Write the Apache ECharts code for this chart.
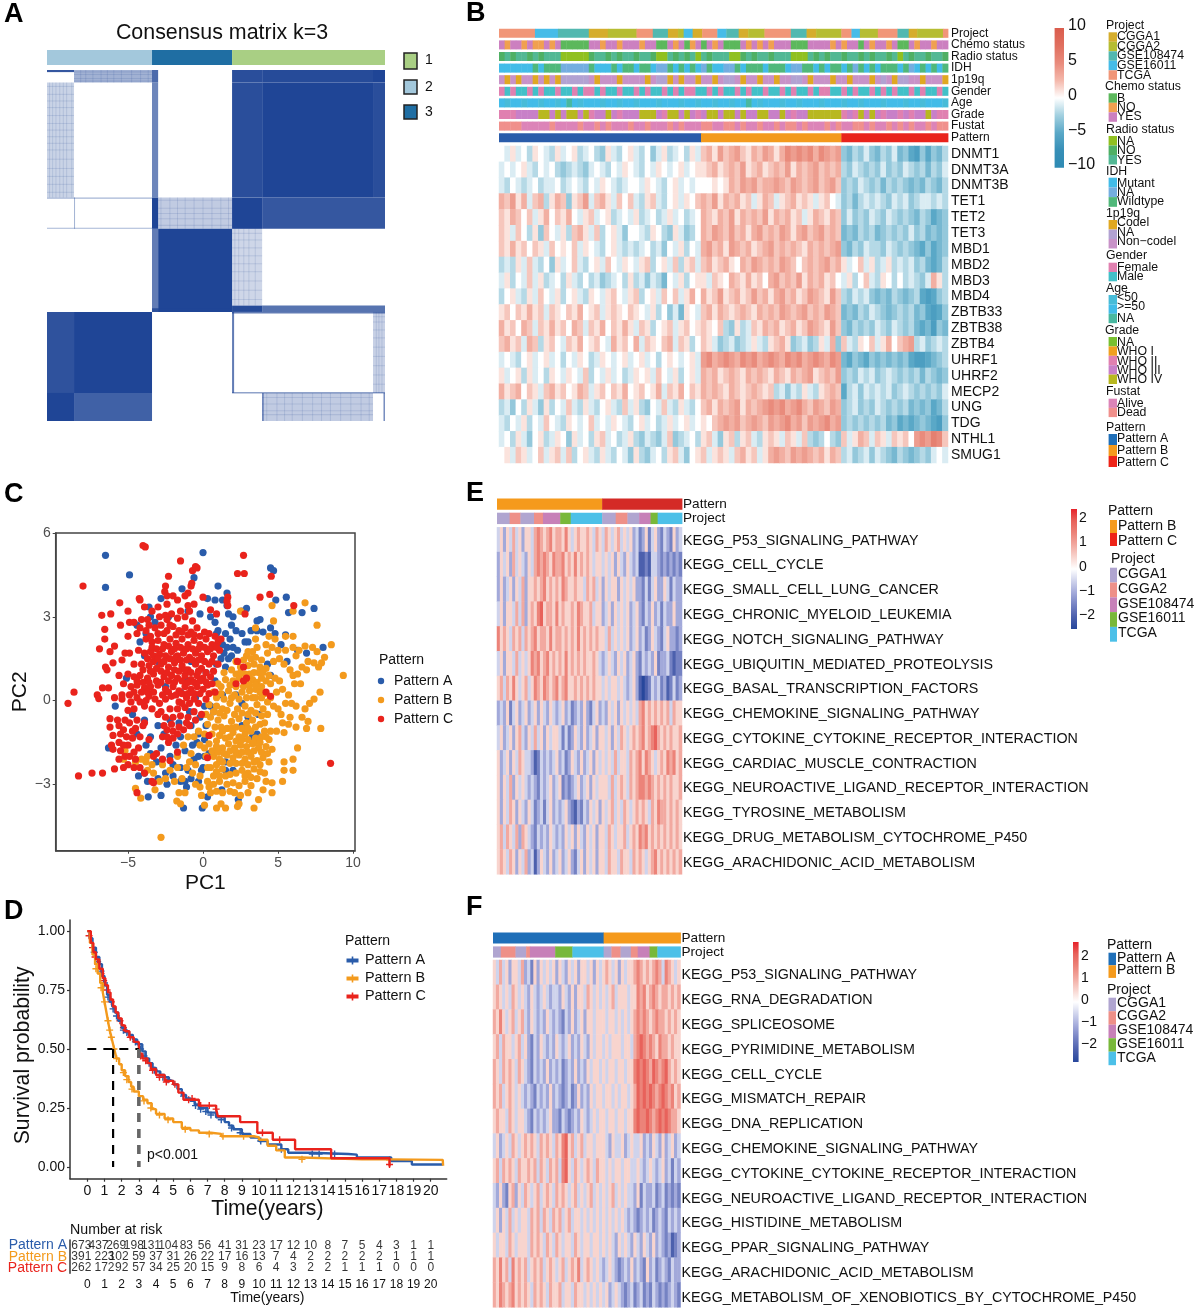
<!DOCTYPE html>
<html>
<head>
<meta charset="utf-8">
<style>html,body{margin:0;padding:0;background:#fff}#chart{width:1200px;height:1312px}</style>
<script src="https://cdn.jsdelivr.net/npm/echarts@6/dist/echarts.min.js"></script>
</head>
<body>
<div id="chart"></div>
<script>
// ---- A: consensus matrix, in sample units [x0,x1,y0,y1,consensus]
var consensusSamples = 1326;
var clusterRuns = [[0,412,1],[412,726,2],[726,1326,0]];
var clusterColors = ['#a9cf84','#a3c8dc','#1f6ea3'];
var consensusBlocks = [
  [0,106,0,8,.9],[106,412,0,47,.42],[412,436,0,47,.8],[726,844,0,47,.95],[844,1279,0,47,.97],[1279,1326,0,47,1],
  [0,106,47,482,.24],[412,436,47,482,.65],[726,844,47,482,.95],[844,1279,47,482,1],[1279,1326,47,482,.95],
  [412,436,482,600,1],[436,726,482,600,.28],[726,844,482,600,1],[844,1326,482,600,.9],
  [0,412,482,486,.4],[0,412,596,600,.4],[106,110,482,600,.4],
  [412,436,600,914,.7],[436,726,600,914,1],[726,844,600,890,.22],[412,726,900,914,.8],[726,844,890,914,.97],[844,1326,890,914,.75],
  [0,106,914,1220,.93],[106,412,914,1220,1],[726,734,914,1220,.7],[726,1326,914,920,.7],[1279,1326,914,1220,.25],
  [0,106,1220,1326,1],[106,412,1220,1326,.85],[844,1279,1220,1326,.28],[726,1326,1216,1222,.5],[1320,1326,1220,1326,.6],[844,850,1220,1326,.6]
];
var partialBlocks = [[0,106,47,482],[106,412,0,47],[436,726,482,600],[726,844,600,890],[1279,1326,914,1220],[844,1279,1220,1326]];
var streakCols = [8,20,33,48,62,75,95,130,150,178,210,235,260,290,330,365,395,445,480,510,540,575,610,645,680,710,735,750,770,790,815,860,900,930,960,1000,1040,1075,1110,1150,1190,1230,1262,1290,1300,1312];
var streakRows = [5,15,30,40,60,90,115,140,170,200,225,250,275,300,335,370,400,430,460,490,520,540,560,585,615,640,670,700,730,760,795,830,865,930,950,980,1010,1045,1080,1115,1150,1185,1235,1260,1285,1300];

// ---- B: annotations and expression
var geneNames = ['DNMT1','DNMT3A','DNMT3B','TET1','TET2','TET3','MBD1','MBD2','MBD3','MBD4','ZBTB33','ZBTB38','ZBTB4','UHRF1','UHRF2','MECP2','UNG','TDG','NTHL1','SMUG1'];
var annotNames = ['Project','Chemo status','Radio status','IDH','1p19q','Gender','Age','Grade','Fustat','Pattern'];
var projectEdges = [0,6.4,10.5,16,19.4,24.5,27.4,30.1,31.9,32.9,34.5,36.2,38.9,40.5,42.7,44.4,47.3,52,54.8,56.5,61,62.8,64.3,67.5,71,73,74.5,79.1,80];
var projectCodes = [4,3,2,0,1,4,2,0,1,3,0,4,3,2,0,1,4,2,0,1,4,3,1,4,2,0,1,4];
var patternEdges = [0,36,61,80];
var chemoCodes = [2,1,2,2,1,2,1,1,2,1, 2,0,0,0,0,0,2,2,1,2, 2,1,2,2,2,1,2,2,0,0, 2,1,2,0,1,2,0,2,1,2, 0,0,0,2,1,2,1,2,1,2, 2,2,0,0,0,2,2,2,2,1, 2,1,2,2,0,2,1,2,2,1, 2,0,0,2,1,2,2,1,2,2];
var radioCodes = [1,2,1,2,2,1,2,1,2,2, 2,0,0,0,0,0,1,2,2,1, 2,1,2,2,1,2,2,1,0,0, 2,1,2,1,2,0,2,1,2,2, 2,0,0,1,2,1,2,2,1,2, 2,2,0,0,0,2,1,2,1,2, 2,1,2,2,1,2,1,2,2,1, 2,0,2,1,2,2,1,2,2,1];
var idhCodes = [0,0,0,0,0,0,2,0,2,2, 2,1,1,1,1,1,2,0,0,0, 2,0,2,2,0,2,2,0,1,1, 2,0,2,0,2,0,1,2,0,0, 1,1,2,0,2,2,2,0,2,2, 2,0,1,1,2,2,0,2,0,2, 2,0,2,1,2,0,2,0,2,2, 2,0,2,1,0,2,0,2,0,2];
var codelCodes = [2,0,2,0,2,2,0,2,0,2, 0,1,1,1,1,1,2,0,2,2, 2,0,2,2,2,2,0,2,1,1, 0,2,0,2,2,0,2,2,0,2, 1,1,2,0,2,2,0,2,2,0, 2,2,1,1,2,0,2,2,2,0, 2,2,0,2,2,2,0,2,1,2, 0,1,1,2,2,0,2,2,2,0];
var genderCodes = [0,1,0,1,1,0,1,0,1,1, 0,1,1,0,1,0,0,1,0,1, 1,0,1,1,0,1,0,1,1,0, 1,0,1,0,0,1,1,0,1,0, 1,1,0,1,0,1,1,0,1,1, 0,1,0,1,1,0,1,0,0,1, 1,0,1,0,1,1,0,1,0,1, 0,1,1,0,1,0,1,1,0,1];
var ageCodes = [1,0,1,1,0,1,1,0,1,1, 0,1,2,1,0,1,1,1,0,1, 1,0,1,1,0,1,1,1,0,1, 1,1,0,1,1,0,1,1,0,1, 1,0,1,1,2,1,0,1,1,1, 0,1,1,0,1,1,1,0,1,1, 1,0,1,1,0,1,1,1,0,1, 1,1,0,1,1,0,1,1,1,0];
var gradeCodes = [2,2,2,3,3,3,3,4,4,3, 4,3,4,4,3,4,2,3,3,4, 3,2,3,3,3,4,4,4,3,2, 4,4,3,4,3,2,3,4,4,3, 4,4,3,4,3,3,4,4,3,3, 4,3,2,3,3,4,4,4,4,4, 4,2,3,2,4,3,4,3,2,3, 3,2,3,2,3,3,4,3,2,2];
var fustatCodes = [1,1,1,1,0,0,0,0,0,1, 0,0,0,0,1,0,0,1,0,1, 0,0,0,1,0,0,1,0,0,0, 1,0,1,0,0,0,1,1,0,0, 1,1,0,1,0,0,1,0,0,1, 0,1,1,0,1,0,0,0,1,0, 1,0,0,1,1,0,1,0,0,1, 0,1,0,1,0,0,1,0,1,1];

var projectColors = ['#d5ad2c','#b6bd32','#52b8b0','#46bce8','#f19678'];
var chemoColors = ['#5cb85c','#f0a050','#cc80c0'];
var radioColors = ['#90c020','#4fb064','#52b894'];
var idhColors = ['#42bce8','#74aee0','#50b87a'];
var codelColors = ['#e0a822','#b2a2d2','#c892c8'];
var genderColors = ['#e080b0','#42c0c8'];
var ageColors = ['#48bcd8','#42bce8','#48b8a0'];
var gradeColors = ['#78c030','#f0a020','#e080b0','#c880c8','#b8b820'];
var fustatColors = ['#dc84b8','#f0908c'];
var patternColors = ['#2a5caa','#f39a1d','#e9231c'];

var exprDNMT1 = [0,-1,1,-1,0,-2,1,0,-1,-2,1,-1, 0,1,-2,-1,0,-2,-3,1,-1,-2,0,1, -1,-2,0,-3,-1,1,-2,-1,0,-2,1,-1, 2,3,1,4,2,3,4,2,1,3,2,4, 3,1,3,5,4,5,4,5,3,5,4,3,4, -3,-4,-2,-3,-1,-3,-4,-2,-3,-1, -4,-3,-5,-6,-3,-5,-3,-4,-2];
var exprDNMT3A = [-1,0,-1,0,1,-1,-2,0,-1,0,-2,-3, -2,-1,-2,-3,-1,0,-1,-2,0,-1,1,0, -1,-2,0,-1,1,0,-1,0,1,-1,0,1, 1,2,3,1,2,3,2,4,1,2,3,1, 2,3,2,4,1,3,2,3,4,2,3,2,3, -2,-3,-1,-2,-3,-2,-3,-1,-3,-2, -3,-1,-2,-3,-2,-4,-2,-3,-1];
var exprDNMT3B = [-1,-2,0,-1,-2,-1,0,-2,-1,-1,0,-2, -1,0,-1,-2,0,-1,1,0,-1,-2,-1,0, 0,-1,1,0,-1,-2,0,1,-1,0,-1,0, 0,0,1,0,1,3,2,4,3,4,2,3, 3,4,3,2,4,3,2,3,4,2,3,4,2, -3,-2,-3,-1,-2,-3,-2,-4,-2,-3, -2,-3,-4,-3,-4,-2,-3,-4,-2];
var exprTET1 = [3,2,4,1,3,-1,2,3,-2,1,3,2, -3,1,2,4,-1,2,3,1,-1,2,0,2, -1,-2,1,2,-1,-2,0,1,-1,1,0,2, 3,2,4,1,3,2,3,1,2,-1,1,3, 2,-1,1,2,3,1,2,1,-1,1,2,0,-1, -3,-2,-4,-2,-1,-2,-1,-2,-3,-1, -2,-1,-3,-2,-1,-1,-2,-1,-2];
var exprTET2 = [2,1,3,2,0,2,-1,1,3,0,2,1, 3,0,-1,1,2,-1,0,1,-2,-1,0,-1, 1,-2,-1,0,-2,-1,1,-1,0,-2,-1,0, 3,2,1,3,2,4,1,3,2,3,2,4, 1,3,2,3,1,2,-1,1,3,2,1,3,2, -3,-1,-3,-2,-3,-1,-2,-3,-1,-2, -3,-2,-3,-4,-2,-3,-5,-4,-3];
var exprTET3 = [2,1,-1,2,0,-2,1,-3,2,0,-1,1, -2,2,3,1,-1,2,-2,0,1,-1,-3,0, 0,-1,-2,1,0,-2,-3,1,-1,-3,-2,0, 3,2,4,3,2,4,2,3,1,3,4,2, 3,2,4,3,1,3,4,2,3,4,2,3,2, -4,-3,-4,-2,-3,-2,-4,-3,-2,-3, -2,-3,-1,-3,-2,-4,-3,-4,-3];
var exprMBD1 = [2,1,3,1,2,0,2,1,-1,2,0,1, 0,2,-1,1,0,-1,-2,0,1,-1,-2,-1, -2,-1,0,-2,-1,-3,0,-1,1,-2,0,-1, 3,4,2,3,1,4,3,2,3,1,2,3, 4,2,3,2,3,2,1,3,2,3,2,3,4, -3,-4,-2,-3,-1,-2,-2,-3,-1,-2, -3,-2,-3,-4,-5,-3,-5,-4,-3];
var exprMBD2 = [-2,-1,-2,1,-1,2,-1,-2,0,-3,1,-1, 0,2,-1,-2,0,1,-1,2,0,-1,1,0, -1,1,2,-2,0,1,-1,2,-2,1,2,-1, 2,3,1,2,3,1,0,3,2,4,3,2, 3,2,4,3,2,0,2,3,2,3,4,2,3, 1,-1,0,2,-1,1,-2,-1,1,-2, -1,-2,-1,-3,-2,-4,-5,-4,-2];
var exprMBD3 = [-1,1,-2,0,-1,2,-1,1,-2,-1,0,-2, 1,-1,-2,0,-2,-1,-3,-2,-1,0,-2,1, -2,-1,-3,-1,-2,-4,0,-1,1,-2,0,1, 1,-1,2,1,0,3,2,1,3,1,2,0, 3,4,2,3,2,4,1,3,2,3,1,2,0, -1,1,-2,0,2,-1,-2,1,0,-2, 0,-2,-1,-2,-3,-1,3,1,-2];
var exprMBD4 = [-2,0,1,-1,-2,1,-1,2,0,-1,1,-2, 0,1,-1,-2,1,0,-1,1,2,0,-1,1, 2,-2,0,1,-1,2,0,2,-1,1,3,0, 3,1,2,4,1,2,3,1,2,4,2,3, 1,3,4,2,3,1,2,4,3,2,1,4,2, -2,-3,-1,-2,-1,-3,-4,-3,-4,-2, -3,-4,-3,-2,-5,-6,-5,-3,-2];
var exprZBTB33 = [1,2,0,2,1,3,1,2,-1,2,1,0, 2,1,3,0,1,2,-1,1,2,1,0,2, 1,0,-1,1,-2,0,-3,-1,-4,1,0,-1, 2,3,1,3,2,1,2,3,2,1,3,2, 3,2,4,3,2,3,4,2,3,2,4,3,2, -4,-3,-4,-2,-3,-1,-2,-3,-4,-3, -2,-3,-2,-4,-3,-5,-6,-5,-3];
var exprZBTB38 = [3,1,2,0,3,2,-1,2,1,3,1,2, 0,3,2,-1,2,1,3,0,2,1,3,1, -1,2,1,-2,0,1,2,-1,1,2,0,1, 2,1,0,2,-2,-3,1,-2,-1,2,1,3, 2,3,1,2,3,1,2,4,3,2,1,4,2, -3,-4,-2,-3,-2,-3,-1,-2,-3,-1, -2,-3,-2,-4,-5,-4,-6,-3,-4];
var exprZBTB4 = [2,3,1,2,-1,3,2,-2,1,2,0,-1, 2,1,3,0,1,2,0,-1,3,1,2,0, 3,-1,2,1,0,2,3,-1,2,1,-2,0, 2,1,-1,-3,-2,-1,-3,-2,-1,1,-1,-2, 1,2,3,1,-3,-2,-1,-3,-2,1,-1,3,-3, 2,-1,-2,1,0,2,-1,1,3,0, 2,3,4,-2,-1,-3,-2,-1,-2];
var exprUHRF1 = [-1,0,-1,-2,0,1,-1,0,1,-1,0,-2, 0,-1,1,0,-2,-1,1,0,-1,0,1,-1, 0,1,-1,0,-2,0,1,0,-1,0,1,-1, 4,5,3,4,5,4,3,5,4,5,3,4, 5,4,3,5,4,5,3,4,5,4,3,5,4, -4,-5,-3,-4,-5,-3,-4,-3,-4,-3, -4,-3,-5,-6,-6,-5,-4,-3,-2];
var exprUHRF2 = [1,-1,0,1,-2,1,-1,0,-2,1,0,-1, 1,0,-1,2,-2,0,-1,1,-1,0,-2,-1, 1,0,1,-1,2,0,-1,1,-2,0,1,-1, 3,2,3,1,2,3,2,1,3,2,3,2, 1,3,2,1,3,2,3,4,1,2,3,2,4, -3,-2,-3,-1,-2,-1,-3,-2,-1,-2, -3,-2,-3,-2,-4,-2,-3,-4,-3];
var exprMECP2 = [3,1,2,3,0,2,1,-1,2,3,1,2, 0,1,3,2,-1,1,2,0,2,1,3,0, 1,2,0,1,3,-1,2,1,3,0,2,1, 3,2,3,2,1,3,2,1,2,3,2,1, 2,-2,-1,-3,-1,-2,1,-1,-2,1,2,3,2, -5,-2,-1,-3,-1,-2,-1,-2,-1,-3, -2,-1,-2,-3,-2,-3,-2,-3,-1];
var exprUNG = [-2,-1,-3,0,-2,1,-1,-3,1,-2,0,-1, 2,-1,-2,1,-1,-2,0,1,-1,-2,2,-1, 1,-2,-3,0,-1,2,-1,-2,1,-1,-2,0, 2,3,1,3,2,3,4,1,3,2,3,4, 5,4,5,3,4,5,3,2,4,3,2,4,3, -3,-2,-1,-3,-2,-3,-1,-2,-3,-2, -3,-2,-4,-3,-4,-3,-5,-4,-2];
var exprTDG = [-1,-2,0,-1,1,-2,0,-1,2,0,-1,-2, 1,0,-1,0,2,-1,0,-1,1,0,-1,-2, 0,1,-1,0,-2,-1,1,-1,0,1,-1,0, 1,0,2,3,4,3,4,2,3,4,3,2, 4,3,4,5,3,4,2,4,3,4,5,3,4, -3,-2,-3,-2,-3,-2,-3,-2,-4,-3, -5,-4,-5,-4,-3,-4,-5,-6,-3];
var exprNTHL1 = [-1,0,-2,1,-1,-3,0,1,-2,-1,1,0, -3,1,-1,0,-2,1,2,-1,0,-2,-1,1, -2,-3,-1,-2,-3,-1,2,-3,-2,-1,0,-2, 1,2,-1,-3,1,2,-2,1,2,-1,-2,1, 2,1,-1,2,1,-1,2,-2,-3,-2,0,-2,-3, 2,-1,1,3,2,-1,2,1,-1,2, 1,2,0,4,5,4,6,5,2];
var exprSMUG1 = [0,1,-1,2,1,-1,0,2,-1,1,2,-1, 2,-2,0,1,-1,-2,1,-1,-2,0,-1,-3, 1,-2,-3,-1,0,-2,1,2,-1,-3,0,1, 2,-1,1,2,1,-1,2,3,1,2,-1,1, 3,4,3,2,4,3,4,3,2,3,1,3,2, -2,-1,-3,-2,-1,-3,-1,-2,-3,-4, -2,-3,-4,-3,-2,-3,-1,0,-1];
var exprRows = [exprDNMT1,exprDNMT3A,exprDNMT3B,exprTET1,exprTET2,exprTET3,exprMBD1,exprMBD2,exprMBD3,exprMBD4,exprZBTB33,exprZBTB38,exprZBTB4,exprUHRF1,exprUHRF2,exprMECP2,exprUNG,exprTDG,exprNTHL1,exprSMUG1];
var exprColors = ['#2e8ab3','#378fb7','#5aa8c7','#a2d0e0','#ffffff','#f4b8ab','#e98b7c','#e06f5f','#da5c4d'];

// ---- C: PCA
var pcaA = [[-6.5,5.2],[0,5.3],[-4.9,4.5],[-6.5,4.05],[4.5,4.75],[4.7,4.65],[-.6,4.4],[-1.4,4],[1,4.1],[1.6,3.85],[5.55,3.7],[4.85,3.6],[5.7,3.15],[6.6,3.15],[7.4,3.3],[8,1.9],[-5.1,.8],[-5.85,-.2],[-4.7,-.5],[-6.3,-1.7],[-3.65,-3.45],[-2.8,-3.4],[-1.3,-3.85],[-.05,-3.85],[2.35,-3.55],[1.25,-3.2],
  [-2.8,3.65],[-3.6,3.35],[-.2,3.1],[.3,3.65],[.8,3.6],[1.3,3.6],[1.6,3.4],[1.7,3.1],[2,3],[2.6,3.2],[2.9,3.3],[3.6,2.85],[3.8,2.9],[3.2,2.5],[3.6,2.5],[4,2.45],[4.5,2.6],[4.8,2.4],[5.5,2.35],[5.2,2],[1.5,2.4],[1.8,2.2],[2,1.9],[1.4,1.7],[1.7,1.5],[2.3,1.8],[2.8,2.1],[3,2.1],[2.6,2.4],[1.5,1.2],[1.9,1.6],[5.6,1.4],[6.3,1.8],[6.9,1.7],
  [-3.5,3],[-3.2,2.8],[-2.3,3],[-1,3.2],[.5,3],[.8,2.8],[-4.2,2.1],[-3.9,1.6],[-3,1.4],[-2.5,.5],[-1.5,.3],[-.8,1.4],[.2,1],[.8,.7],[1.3,.2],[2.2,.2],[2.6,-.1],[-.2,-.6],[.2,-.9],[-.3,-1.2],[-.8,-.9],[-1.6,-.8],[-2.2,-.7],[-3,-.9],[-3.5,-1.3],[-3.8,-1.6],[-3.5,-1.9],[-2.8,-1.7],[-2.2,-2],[-1.8,-1.6],[-1.2,-1.8],[-.7,-1.6],[-.3,-2],[0,-2.4],[.4,-1.9],[-2.5,-2.6],[-2,-2.7],[-1.5,-2.4],[-1,-2.5],[-.8,-2.8],[-1.2,-2.9],[-3,-2.8],[-3.7,-2.9],[-4.3,-2.7],[-2.4,-3],[-1.1,-3.1],[-.3,-2.9],[.3,-3.45],[1.5,-2.2],[1.5,-2.5],[2,-2.5],[3.3,-1.3],[3.6,-1.2],[3,-.6],[2.6,-.9],[3.7,-.5],[4.5,.9],[4.3,1.3],[-4.4,-1.2],[-3.9,-.7],[-1,.7],[.5,-.2],
  [1,2.5],[1.3,2],[.9,1.3],[1.2,1.5],[1.6,1.9],[.9,2.4],[-.5,.1],[.1,-.2],[-.9,-.4],[-.4,-1.5],[.1,-1.4],[-1.5,-1.3],[-2.6,-1.2],[-.6,-2.1],[-1.5,-2.9],[-2,-2.3],[-3.1,-2.2],[-3.9,-2.6],[.1,-2],[-.1,-2.5],[.7,-.4],[-4.4,2.7],[-3.8,2.4],[1.9,2.7],[2.2,2.5]];
var pcaB = [[9.35,.9],[8.55,2],[7.6,2.7],[6.8,3.5],[4.6,3.4],[6,3.2],[2.5,3.2],[3.5,2.6],[4.7,2.85],[5.5,2.3],[6,2.3],[4.8,2.2],[4.6,1.9],[5,1.8],[5.5,1.8],[6,1.9],[6.4,1.8],[6.8,1.95],[7.3,1.9],[7.6,1.75],[6.2,1.6],[7,1.4],[7.4,1.35],[7.9,1.35],[8.1,1.55],[7.7,1.2],[4.7,1.4],[5.1,1.5],[5.4,1.3],[5.8,1.1],[6.6,1.2],[6.9,1.1],[6,.9],[6.3,.95],[6.1,.6],[6.5,.6],[7.8,.3],[7.4,.05],[7.1,-.1],[6.8,-.3],[6.2,-.2],[5.9,-.1],[5.5,-.1],[5.7,.2],[5.3,.4],[5.1,.7],[4.8,.8],[4.5,.6],[4.9,.3],[4.5,.1],[4.7,-.2],[5,-.3],[5.2,-.5],[5.8,-.6],[6.6,-.6],[7,-.75],[6.9,-1],[6.2,-.95],[5.7,-.85],[5.3,-.8],[4.9,-1.1],[5.4,-1.15],[4.5,-1.1],[4.1,-1.1],[7.85,-1],[6.3,-1.7],[6,-2.1],[6,-2.5],[5.4,-2.5],[5.4,-2.2],[5.3,-2.9],[4.6,-2.95],[4.6,-3.3],[4,-3.2],[4.2,-2.9],[3.4,-3.85],[3.7,-3.55],[2.5,-3.4],[2.4,-3.7],[.9,-3.85],[1.2,-3.7],[1.5,-3.85],[.1,-3.75],[2.3,-3.8],[-.1,-3.4],[.4,-3.1],
  [-2.8,-4.9],[-1.75,-3.6],[-4.15,-3.5],[-4.5,-3.15],[-1.5,-3.7],[-1.6,-3.3],[-1.2,-3.3],[-3.2,-3.2],[-5.2,-1.8],[-5.3,-2.1],[-4.1,-2.1],[-3.7,-2],[-3.4,-2.3],[-3.3,-2.6],[-3.8,-2.2],[-2.7,-2.3],[-2.2,-2.5],[-1.7,-2.4],[-1.7,-2],[-1.3,-1.6],[-1,-1.3],[-.8,-1.9],[-.6,-1.3],[-.5,-2.3],[-.9,-2.2],[-.2,-1.6],[.1,-1.7],[-.2,-2.7],[.3,-2.4],[.2,-2],
  [3.3,1.75],[3.6,1.9],[2.9,1.6],[3.2,1.5],[1.9,1.1],[2.5,1.2],[3,1.25],[3.4,1.3],[3.8,1.2],[4.2,1.15],[1.4,1],[2.8,.95],[1,.6],[1.5,.75],[2,.7],[2.4,.8],[2.9,.6],[3.3,.75],[3.6,.65],[3.9,.8],[4.2,.7],[3.1,.95],[3.7,1],[.7,.3],[1.2,.25],[1.7,.35],[2.1,.2],[2.6,.3],[3.1,.35],[3.5,.4],[3.8,.3],[4.1,.25],[3.3,.1],
  [.4,-.15],[.9,-.2],[1.3,-.3],[1.8,-.1],[2.3,-.3],[2.8,-.2],[3.2,-.35],[3.6,-.15],[4,-.3],[.5,-.6],[1,-.7],[1.4,-.55],[1.9,-.75],[2.4,-.65],[2.9,-.8],[3.3,-.7],[3.8,-.85],[.8,-.95],[1.6,-1],[.6,-1.2],[1.1,-1.25],[1.5,-1.35],[2,-1.15],[2.4,-1.3],[2.8,-1.2],[3.2,-1.1],[3.5,-1.35],[3.9,-1.3],[4.4,-1.4],
  [.4,-1.55],[.9,-1.65],[1.3,-1.7],[1.7,-1.55],[2.1,-1.7],[2.5,-1.6],[2.9,-1.65],[3.3,-1.55],[3.7,-1.7],[4.2,-1.65],[4.6,-1.75],[.7,-2],[1.1,-2.1],[1.6,-1.95],[2,-2.05],[2.4,-1.95],[2.8,-2.1],[3.2,-2],[3.6,-2.15],[4,-2.05],[4.4,-2.2],[.5,-2.4],[.9,-2.55],[1.3,-2.45],[1.8,-2.65],[2.6,-2.5],[3,-2.6],[3.4,-2.45],[3.8,-2.55],[4.1,-2.6],[.3,-2.9],[.7,-3],[1.1,-2.9],[1.6,-3],[2,-2.95],[2.4,-3.05],[2.8,-2.9],[3.2,-3.05],
  [2.2,1.4],[2.7,1.45],[3.5,1.55],[3.9,1.45],[2.2,.95],[2.5,1],[3.4,1],[4,1],[4.4,.9],[1.2,.5],[1.8,.55],[2.2,.5],[2.7,.5],[3.1,.55],[3.5,.55],[3.9,.5],[.9,.1],[1.4,.05],[1.9,.1],[2.4,.05],[2.9,.1],[3.5,.1],[3.9,.1],[4.3,-.05],[.7,-.4],[1.1,-.45],[1.6,-.35],[2.1,-.5],[2.6,-.45],[3,-.5],[3.5,-.45],[3.9,-.55],[4.3,-.5],[.3,-.85],[1.2,-.95],[1.9,-1],[2.2,-.95],[2.6,-1],[3,-1],[3.5,-.95],[4.1,-.8],[.9,-1.45],[1.3,-1.1],[1.8,-1.3],[2.2,-1.45],[2.6,-1.4],[3,-1.4],[3.4,-1.5],[3.8,-1.5],[4.2,-1.3],[.6,-1.8],[1,-1.85],[1.4,-1.9],[1.8,-1.8],[2.2,-1.85],[2.6,-1.85],[3,-1.85],[3.4,-1.8],[3.9,-1.85],[4.3,-1.9],[.9,-2.3],[1.3,-2.2],[1.8,-2.25],[2.2,-2.25],[2.6,-2.25],[3,-2.3],[3.4,-2.2],[3.8,-2.3],[.7,-2.7],[1.1,-2.7],[1.5,-2.7],[2.2,-2.6],[2.8,-2.7],[3.2,-2.75],[3.6,-2.8],[.5,-3.3],[.9,-3.25],[1.3,-3.3],[1.8,-3.25],[2.1,-3.3],[3,-3.3],[-.2,-3.1],[-.5,-3],[-1.4,-2.8],[-1.9,-2.9],[-2.9,-2.9],[-3.7,-2.5],[-4.5,-2.2],[-2.5,-2.8],[-1.1,-2.4],[-.7,-2.6],[-.3,-1.1],[.2,-.5],[.1,-1.2],[3,1.75],[3.5,2.2],[4.3,1.7],[4.2,2],[4.4,2.3]];
var pcaC = [[-4,5.55],[-3.85,5.5],[-1.5,5],[2.7,5.2],[2.3,4.55],[2.75,4.55],[4.55,4.45],[-8,4.1],[-8.6,.3],[-9,-.1],[-8.3,-2.7],[-7.4,-2.6],[-6.7,-2.6],[8.5,-2.25],[6.05,3.4],[4.45,3.8],[3.8,3.7],[4.5,.15],[4.2,.3],[-5.55,3.5],[-6.75,3.05],[-6.15,3.1],[-6.55,2.55],[-6.9,1.85],[-7.05,.2],[-6.95,.07],[-6.55,2.2],[-6.2,1.75],[-5.9,1.95],[-6.5,1.2],[-6.4,1.1],[-6,1.35],[-6.7,.45],[-6.3,.45],[-5.9,.1],[-5.4,.2],[-5.4,1.45],[-5.2,1.7],[-5,3.2],[-5.5,2.7],[-4.9,2.8],[-4.2,3.6],[-4.25,3.65],[-3.9,3.35],[-4.4,2.4],
  [-.4,4.75],[-.5,4.8],[-.7,4.65],[-2.3,4.45],[-2.5,4.1],[-2.55,3.9],[-2.4,3.75],[-.8,4.1],[-.75,4.2],[-1,3.85],[-1.2,3.75],[0,3.7],[-2,3.75],[-1.7,3.6],[-2.4,3.45],[-3,3.35],[-1,3.4],[-.6,3.45],[-.9,3.2],[.5,3.25],[.9,3.1],[1.65,3.4],[1.65,3.7],[1.6,3.55],[2.8,3.1],
  [-4.1,2.9],[-3.7,2.9],[-2.9,3],[-2.5,3.05],[-2.1,3.1],[-1.7,2.95],[-1.2,3],[-.7,2.85],[-4.2,2.6],[-3.8,2.5],[-3.2,2.6],[-2.8,2.7],[-2.4,2.5],[-2,2.65],[-1.6,2.5],[-1.2,2.6],[-.8,2.45],[-.4,2.6],[.1,2.45],[-3.8,2.2],[-3.4,2.1],[-3,2.15],[-2.6,2],[-2.2,2.2],[-1.8,2.05],[-1.4,2.2],[-1,2],[-.6,2.15],[-.2,2],[.2,2.2],[.6,2],[1,2.1],[1.2,2.2],
  [-4.3,1.8],[-3.9,1.7],[-3.5,1.75],[-2.9,1.65],[-2.5,1.6],[-2.1,1.75],[-1.7,1.6],[-1.3,1.7],[-.9,1.55],[-.5,1.7],[-.1,1.6],[.3,1.75],[.7,1.6],[1.1,1.8],[-4.9,1.7],[-4.6,1.3],[-4.1,1.3],[-3.6,1.25],[-3.3,1.4],[-2.8,1.3],[-2.3,1.2],[-1.9,1.35],[-1.4,1.25],[-1,1.1],[-.5,1.3],[-.1,1.15],[.4,1.3],[1,1.3],[2.3,1.4],[2.7,1.2],[2.9,.8],
  [-5,.95],[-4.6,.85],[-4.2,.9],[-3.7,.8],[-3.3,.95],[-2.6,.85],[-2.1,.9],[-1.7,.8],[-1.2,.9],[-.8,.75],[-.4,.9],[0,.8],[.5,.85],[2.2,.6],[2.7,.7],[-4.8,.5],[-4.4,.55],[-3.9,.45],[-3.5,.5],[-3,.55],[-2.5,.4],[-2,.5],[-1.6,.35],[-1.2,.5],[-.8,.4],[-.4,.5],[0,.4],[.3,.55],[.8,.3],
  [-5.4,.05],[-4.9,.2],[-4.4,.1],[-3.6,.15],[-3.2,.05],[-2.5,.05],[-2.1,.15],[-1.6,-.05],[-1.1,.1],[-.6,.05],[.2,.05],[-5,-.35],[-4.6,-.3],[-3.9,-.2],[-3.4,-.3],[-2.8,-.4],[-2.2,-.3],[-1.7,-.3],[-1.2,-.25],[-.6,-.4],[-.1,-.5],
  [-6.2,-.65],[-5.7,-.7],[-5.2,-.7],[-4.4,-.7],[-3.9,-.8],[-3,-.5],[-2.5,-.6],[-2,-.6],[-1.5,-.55],[-1,-.6],[-.5,-.7],[-6.2,-.95],[-5.6,-.9],[-5.3,-1.05],[-4.5,-1],[-4,-.9],[-2.4,-1.05],[-2,-1.1],[-1.6,-.95],[-1.3,-1.05],[-.9,-.9],[.4,-1.25],
  [-6,-1.25],[-5.5,-1.2],[-5.1,-1.3],[-4.7,-1.35],[-4.2,-1.3],[-3.6,-1.4],[-2.7,-1.3],[-2.3,-1.5],[-6.1,-1.6],[-6,-1.75],[-5.5,-1.8],[-5,-1.6],[-4.6,-1.85],[-5.2,-2],[-4.9,-2],[-4.3,-1.7],[-3.1,-1.9],[-2.7,-2.1],[-2.2,-2.15],[-1.7,-1.85],[.3,-2.05],[-5.9,-2.45],[-5.3,-2.4],[-5,-2.3],[-4.6,-2.4],[-4.2,-2.4],[-3.9,-2.6],[-3.3,-2],[-3.4,-2.9],[-4.4,-3.3],[-3.3,-2.95],
  [-3.6,2.7],[-3,2.4],[-2.6,2.4],[-2.2,2.7],[-1.8,2.35],[-1.4,2.45],[-1,2.35],[-.6,2.35],[-.2,2.3],[.4,2.4],[.8,2.3],[-3.4,1.9],[-3.1,1.85],[-2.7,1.85],[-2.3,1.95],[-1.9,1.85],[-1.5,1.9],[-1.1,1.85],[-.7,1.85],[-.3,1.85],[.1,1.9],[.5,1.85],[.9,1.9],[-3.7,1.5],[-3.3,1.6],[-3,1.5],[-2.6,1.4],[-2.2,1.5],[-1.8,1.55],[-1.5,1.45],[-1.1,1.45],[-.7,1.45],[-.3,1.45],[.1,1.4],[.6,1.4],[-4,1.1],[-3.5,1.05],[-3.1,1.15],[-2.8,1.05],[-2.4,1],[-1.9,1.1],[-1.6,1.05],[-1.2,1.1],[-.8,1],[-.3,1.05],[.2,1],[.7,1.05],[-4.4,.7],[-4,.65],[-3.6,.65],[-3.1,.7],[-2.8,.65],[-2.3,.7],[-1.9,.65],[-1.4,.7],[-1,.65],[-.6,.65],[-.2,.7],[.2,.65],[.6,.6],[-4.6,.3],[-4.1,.3],[-3.7,.3],[-3.3,.3],[-2.7,.2],[-2.3,.3],[-1.8,.2],[-1.4,.25],[-1,.25],[-.6,.25],[-.2,.25],[.4,.25],[-4.8,-.05],[-4.2,-.05],[-3.8,0],[-2.9,-.1],[-1.4,-.1],[-.9,-.1],[-.3,-.1],[-3.5,2.3],[-2.4,2.9],[-1.5,3.2],[-3.4,3.2],[-4.6,2.8],[-5,2.3],[-5.3,.6],[-5.6,.9],[-4.9,-.8],[-4.7,-1.1],[-5.6,-1.5],[-5.3,-1.6],[-4.5,-2.1],[-5.6,-2.1],[-2.6,-.9],[-2.1,-.85],[-1.7,-1.2],[-1.1,-.8],[-2.4,-1.3],[-2,-1.35]];

// ---- D: survival
var survivalA = [[0,1],[.15,.97],[.3,.93],[.5,.89],[.7,.86],[.85,.81],[1,.77],[1.15,.73],[1.3,.7],[1.45,.68],[1.6,.655],[1.8,.62],[2,.59],[2.2,.575],[2.4,.56],[2.65,.54],[2.9,.52],[3.2,.49],[3.4,.46],[3.6,.44],[3.8,.42],[4,.405],[4.25,.39],[4.5,.38],[4.75,.365],[5,.35],[5.25,.33],[5.5,.305],[5.75,.29],[6,.28],[6.25,.265],[6.5,.25],[7,.23],[7.5,.21],[8,.19],[8.25,.175],[8.5,.16],[9,.14],[9.5,.125],[10,.11],[10.5,.095],[11.3,.075],[11.7,.06],[13,.055],[15.2,.052],[15.7,.04],[17.7,.025],[18.9,.01],[20.7,.01]];
var survivalB = [[0,1],[.15,.95],[.3,.9],[.45,.86],[.6,.82],[.75,.78],[.9,.74],[1,.7],[1.1,.66],[1.2,.62],[1.3,.58],[1.4,.55],[1.5,.52],[1.6,.49],[1.7,.46],[1.85,.435],[2,.41],[2.2,.385],[2.4,.36],[2.55,.34],[2.7,.32],[3,.3],[3.25,.285],[3.5,.27],[3.75,.245],[4,.225],[4.5,.205],[5,.19],[5.5,.165],[6,.155],[6.5,.145],[7.2,.14],[7.8,.13],[9,.13],[9.7,.125],[10,.115],[10.5,.09],[11,.07],[11.5,.04],[12.5,.032],[16,.032],[17.6,.03],[20.7,.03],[20.72,.005]];
var survivalC = [[0,1],[.2,.95],[.35,.91],[.5,.88],[.7,.84],[.9,.8],[1.05,.77],[1.2,.74],[1.35,.71],[1.5,.68],[1.65,.655],[1.8,.63],[2,.6],[2.2,.575],[2.45,.55],[2.7,.53],[3,.48],[3.2,.46],[3.5,.44],[3.7,.415],[4,.39],[4.5,.365],[5,.35],[5.3,.315],[5.6,.285],[6.2,.285],[6.5,.26],[7.5,.245],[7.6,.215],[8.9,.19],[9.9,.145],[10.8,.115],[12.1,.075],[14.2,.037],[17.6,.002]];
var censorA = [[.4,.91],[.6,.87],[.8,.83],[1,.78],[1.2,.72],[1.5,.67],[1.7,.64],[2.1,.58],[2.3,.57],[2.8,.53],[3.1,.5],[3.3,.47],[3.6,.44],[3.9,.41],[4.2,.39],[4.4,.38],[4.7,.37],[5.6,.3],[6.3,.26],[6.6,.245],[6.9,.235],[7.2,.22],[7.8,.2],[8.4,.165],[8.9,.145],[10.1,.11],[11.3,.075],[13.1,.055],[13.5,.055],[14.4,.055]];
var censorB = [[.5,.84],[.8,.76],[1,.7],[1.2,.62],[1.3,.58],[1.4,.55],[1.55,.5],[1.7,.46],[2.1,.4],[2.3,.37],[2.6,.33],[3.3,.28],[3.7,.25],[4.2,.22],[4.7,.2],[5.7,.16],[7.1,.14],[7.9,.13],[9.1,.13],[12.5,.032],[17.6,.03]];
var censorC = [[.1,.98],[.3,.93],[.45,.89],[.6,.86],[.8,.82],[.95,.79],[1.15,.75],[1.4,.7],[1.9,.62],[2.1,.59],[2.5,.55],[3.1,.47],[3.4,.45],[3.8,.41],[4.2,.38],[4.6,.36],[5.1,.35],[5.9,.285],[6.1,.29],[6.6,.26],[7.1,.26],[7.5,.245],[10.2,.145],[11.2,.115],[17.6,.01]];
var medianLine = [[0,.5],[3,.5]];
var medianB = [[1.5,.5],[1.5,0]];
var medianAC = [[3,.5],[3,0]];
var yearTicks = [0,1,2,3,4,5,6,7,8,9,10,11,12,13,14,15,16,17,18,19,20];
var riskA = [673,437,269,198,131,104,83,56,41,31,23,17,12,10,8,7,5,4,3,1,1];
var riskB = [391,223,102,59,37,31,26,22,17,16,13,7,4,2,2,2,2,2,1,1,1];
var riskC = [262,172,92,57,34,25,20,15,9,8,6,4,3,2,2,1,1,1,0,0,0];
var patternNames = ['Pattern A','Pattern B','Pattern C'];

// ---- E
var pathwaysE = ['KEGG_P53_SIGNALING_PATHWAY','KEGG_CELL_CYCLE','KEGG_SMALL_CELL_LUNG_CANCER','KEGG_CHRONIC_MYELOID_LEUKEMIA','KEGG_NOTCH_SIGNALING_PATHWAY','KEGG_UBIQUITIN_MEDIATED_PROTEOLYSIS','KEGG_BASAL_TRANSCRIPTION_FACTORS','KEGG_CHEMOKINE_SIGNALING_PATHWAY','KEGG_CYTOKINE_CYTOKINE_RECEPTOR_INTERACTION','KEGG_CARDIAC_MUSCLE_CONTRACTION','KEGG_NEUROACTIVE_LIGAND_RECEPTOR_INTERACTION','KEGG_TYROSINE_METABOLISM','KEGG_DRUG_METABOLISM_CYTOCHROME_P450','KEGG_ARACHIDONIC_ACID_METABOLISM'];
var projectEdgesE = [0,4.1,7.6,12,14.9,20.5,23.9,34.1,38.5,42.3,46.1,49.8,52.1,60];
var projectCodesE = [0,1,0,1,2,3,4,0,1,0,2,3,4];
var patternEdgesE = [0,34.1,60];
var patternCodesE = [1,2];
var gsvaE = [
[-.5,.5,-1,.5,-.5,1,-.5,.5,-1,.5, .5,-.5,1,1.5,1,.5,1,1.5,.5,1, 1,.5,1.5,.5,-.5,.5,1,.5,.5,1, .5,-.5,1,.5, -.5,1,.5,-.5,.5,1,-.5,.5,-.5,.5, -1,-.5,-1.5,-1,.5,-1.5,-.5,.5,-1,-1.5, -.5,-1,-1.5,.5,-1,-.5],
[-1,.5,-.5,.5,-1,1,-.5,.5,-.5,-1, .5,-.5,1,1.5,1,1.5,1,.5,1.5,1, 1,1.5,.5,1,.5,1.5,.5,1,.5,1, .5,-.5,.5,.5, -.5,.5,-.5,.5,-1,.5,-.5,-1,.5,-.5, -1,-.5,-2,-2,-1.5,-2,-.5,-.5,-1,-1.5, -1,-1.5,-1,-1.5,-1,-1.5],
[-1,.5,-1,-.5,.5,-1,.5,-.5,1,-1, .5,.5,1,.5,1,1.5,.5,1,.5,1, .5,1.5,1,.5,.5,1,.5,.5,-.5,1, .5,1,-.5,.5, -1,.5,-.5,.5,.5,-1,.5,-.5,.5,-.5, .5,-1,-1,-1.5,-.5,-1.5,-.5,.5,-1,-1, .5,-.5,-1.5,-.5,-1,-1],
[-.5,.5,-1,.5,.5,-.5,1,-.5,1,-1, .5,1,.5,1.5,2,.5,1,1,.5,1.5, .5,1,.5,.5,1,.5,1.5,1,.5,.5, 1,-.5,.5,.5, -1,-.5,.5,-1,.5,-.5,.5,-.5,.5,-1, -.5,.5,-1,-1.5,-.5,-1,.5,-1,-.5,-1.5, -.5,-1,-1,.5,-1,-1],
[1.5,.5,1,.5,-.5,1,.5,1,-.5,1, .5,1,1.5,.5,1,1,.5,1.5,.5,1, 1,.5,1,.5,1,.5,1.5,.5,1,.5, 1,.5,1,.5, .5,-.5,1,-.5,.5,-.5,.5,-.5,.5,-1, -.5,.5,-1,-.5,-1.5,-1,.5,-.5,-1,-1.5, -.5,.5,-1,-1,-1.5,-1],
[-.5,.5,-1,.5,.5,-.5,1,-.5,.5,-.5, .5,1.5,1,1.5,.5,1,1.5,.5,1,.5, 1,.5,1.5,.5,1,.5,1,.5,1,.5, .5,1,.5,-.5, -1,-.5,.5,-.5,-1,.5,-.5,.5,-1,-.5, .5,-1,-1.5,-.5,-1,-.5,-1,.5,-1.5,-1, -1,-.5,-1.5,-2,-1.5,-1.5],
[.5,1,-.5,1,.5,1.5,.5,-.5,.5,1, -.5,.5,1.5,1,.5,1.5,1,.5,1,1.5, .5,1,1.5,.5,.5,1,.5,1,.5,1, .5,1,.5,.5, -.5,.5,-.5,.5,.5,-.5,.5,-.5,-1,-.5, .5,-1,-2,-2.5,-2,-1.5,-.5,-1,-.5,-1.5, -1,-2,-1.5,-.5,-1.5,-1],
[-1,-.5,-1,.5,-1.5,-.5,.5,-1,-.5,.5, -1,-.5,.5,-1,.5,-.5,-1,.5,-.5,-1, -.5,.5,-1,-.5,-1.5,-1,-.5,-1,.5,-1, -1.5,-.5,.5,-1, -.5,-1,.5,-.5,.5,-1,.5,-.5,.5,-.5, .5,-.5,1,1.5,.5,1,.5,1,.5,1, .5,1,-.5,1,.5,.5],
[-.5,.5,-1,-.5,.5,-1,.5,1,-.5,-1, .5,-.5,1,-.5,.5,-1,.5,-.5,.5,.5, -.5,-1.5,-.5,-1.5,-1,.5,-.5,-1,.5,-1, -.5,.5,-1,.5, .5,-.5,.5,-1,.5,-.5,1,.5,-.5,.5, 1,.5,1,1.5,.5,1,1.5,2,1,.5, 1,.5,1,.5,.5,1],
[.5,-1,-.5,.5,-1,.5,-.5,1,.5,-.5, -.5,-1,-2,-1.5,-.5,-1,-.5,-1,-.5,.5, -1,-.5,-1.5,-1,.5,-.5,-1,.5,-1,-.5, .5,-1,.5,-.5, .5,-.5,.5,-.5,1,-.5,.5,.5,-.5,1, .5,1,1.5,.5,1.5,1,.5,-.5,.5,1, .5,1.5,1,1.5,.5,1],
[.5,-1,.5,-.5,1,-1,.5,-.5,.5,-.5, -1,-.5,-1,-1.5,-.5,-1,-.5,.5,-1,-.5, .5,-1.5,-1,-1.5,-1,-.5,.5,-1,-.5,.5, -1,.5,-.5,.5, .5,.5,-.5,1,-.5,.5,1,.5,-.5,1, .5,1,1.5,1.5,1,1.5,1,.5,1,.5, 1,.5,1,.5,.5,1],
[.5,-1,.5,-.5,1,.5,-1,.5,-.5,-1, .5,-.5,-1.5,-1,-.5,-1.5,-.5,.5,-1,-.5, -1,-.5,.5,-1,-1.5,-2,-1,-1.5,-.5,-1, .5,-.5,.5,-1, .5,-.5,.5,1,-.5,.5,-.5,1,.5,-.5, .5,1,.5,1,.5,-.5,1,.5,1.5,1, 1,.5,1,.5,1,.5],
[.5,1,-.5,1,.5,-.5,1,-1,1,.5, -.5,-1,-1.5,-.5,-1,-.5,-1,.5,-.5,-1, -.5,-1,.5,-.5,.5,-1,.5,-.5,-1,.5, -.5,.5,-1,.5, .5,-.5,1,.5,-.5,.5,.5,1,-.5,.5, 1,.5,1.5,1,1.5,.5,1,.5,1,.5, 1,.5,1,.5,1,.5],
[.5,1,.5,-.5,1,.5,-1,.5,-.5,1, -1,-.5,-2,-1,.5,-.5,-1,.5,-1,-.5, .5,-1,-.5,.5,-1,-1.5,-.5,.5,-1,.5, -.5,.5,-1,.5, .5,-.5,1,.5,.5,-.5,1,.5,.5,-.5, 1,.5,1,.5,-.5,.5,1,1.5,.5,1, .5,1,.5,1,.5,1]
];

// ---- F
var pathwaysF = ['KEGG_P53_SIGNALING_PATHWAY','KEGG_RNA_DEGRADATION','KEGG_SPLICEOSOME','KEGG_PYRIMIDINE_METABOLISM','KEGG_CELL_CYCLE','KEGG_MISMATCH_REPAIR','KEGG_DNA_REPLICATION','KEGG_CHEMOKINE_SIGNALING_PATHWAY','KEGG_CYTOKINE_CYTOKINE_RECEPTOR_INTERACTION','KEGG_NEUROACTIVE_LIGAND_RECEPTOR_INTERACTION','KEGG_HISTIDINE_METABOLISM','KEGG_PPAR_SIGNALING_PATHWAY','KEGG_ARACHIDONIC_ACID_METABOLISM','KEGG_METABOLISM_OF_XENOBIOTICS_BY_CYTOCHROME_P450'];
var projectEdgesF = [0,2.5,7.2,10.6,11.8,19.9,25.4,35.4,37.9,40.8,44.1,46.3,50.1,52.6,60];
var projectCodesF = [0,1,0,1,2,3,4,0,1,0,1,2,3,4];
var patternEdgesF = [0,35.4,60];
var patternCodesF = [0,1];
var gsvaF = [
[.5,-.5,1,-.5,.5,-1,.5,.5,-.5,1, -1,-.5,-1.5,.5,-1,.5,-.5,.5,-.5,.5, -1,.5,-.5,-1,.5,-.5,.5,-1,.5,.5, -.5,.5,-1,.5,-.5, .5,1,.5,-.5,.5,-1,.5,-.5,.5,.5, 1,1.5,1,.5,1,.5,1,1.5,1,-.5, 1.5,1,.5,-.5,.5],
[.5,1,.5,-.5,.5,-.5,1,.5,-.5,.5, -.5,-1,.5,-.5,-1,-.5,.5,-.5,-1,-.5, -.5,-1,.5,-.5,-1,.5,-1,.5,.5,-.5, 1,.5,-.5,.5,-.5, .5,-.5,.5,1,-.5,.5,.5,.5,-.5,.5, .5,1.5,1,1.5,.5,1,1.5,1,.5,1, 1,.5,1,.5,1],
[1,.5,1.5,.5,-.5,.5,1,-.5,.5,1, -.5,-1,.5,-.5,-1,-.5,-1,.5,-.5,-1, -.5,-1,-1.5,-.5,-1,.5,-1,-.5,.5,-1, .5,.5,-.5,.5,.5, .5,-.5,.5,.5,-.5,.5,-.5,.5,-.5,.5, 1,1.5,1,1.5,1,.5,1,1.5,1,1, .5,1,.5,1,.5],
[.5,1,-.5,1,.5,.5,-.5,.5,1,-.5, .5,-1,-1.5,-.5,-1,.5,-.5,-1,-.5,-1, .5,-.5,-1,-.5,.5,-1,-.5,-1,.5,-.5, -1,.5,-.5,.5,.5, -.5,.5,-.5,.5,.5,.5,-.5,.5,.5,-.5, 1,1.5,2,1.5,1,1.5,1,.5,1.5,1, 1,.5,1,.5,.5],
[1,.5,-.5,1,.5,1,.5,-.5,1,.5, -.5,-1,-1.5,-.5,-1,-.5,-1,.5,-1,-.5, -1,-.5,-1.5,-1,-.5,-1,.5,-1,-.5,-1, .5,-.5,.5,.5,-.5, .5,-.5,.5,.5,-.5,.5,.5,-.5,.5,.5, 1.5,2,1.5,2,1.5,1,2,1.5,1,1.5, 2,1,.5,1,.5],
[1,.5,1,-.5,.5,1,.5,-.5,.5,-.5, -1,-.5,-1,-1.5,-.5,-1,-.5,-1,.5,-1, -.5,-1,-1.5,-1,-.5,-1.5,-1,.5,-1,-.5, -1,.5,-.5,.5,.5, -.5,.5,.5,-.5,.5,-.5,.5,.5,-.5,.5, 1,2,1.5,2,1.5,2,1.5,1,1.5,2, 1.5,1,1.5,.5,1],
[.5,1,.5,.5,-.5,1,.5,-.5,.5,.5, -.5,-1,-1.5,-.5,-1,-.5,-1,-.5,.5,-1, -1,-1.5,-.5,-1,-1.5,-1,-.5,-1,.5,-.5, -1,-.5,.5,-.5,.5, .5,-.5,.5,.5,-.5,.5,.5,-.5,.5,.5, 1.5,2,1.5,1.5,2,1.5,1,1.5,2,1.5, 2,1.5,1,1,.5],
[-.5,.5,-1,-.5,.5,-.5,1,.5,-.5,.5, 1,.5,1,.5,-.5,1,.5,1,.5,-.5, 1,.5,1.5,2,.5,1,-.5,.5,1,-.5, .5,.5,-.5,.5,.5, .5,-.5,-1,.5,-.5,-.5,.5,-1,-.5,.5, -.5,-.5,.5,-1,-.5,-1,.5,-.5,-1,.5, -1,-.5,.5,-1,-.5],
[.5,1,-.5,1,.5,1,.5,-.5,1,.5, .5,1,.5,1,-.5,1,.5,-.5,1,.5, 1,-.5,1.5,2,.5,-.5,1,.5,-.5,.5, 1,.5,-.5,1,.5, .5,-.5,.5,-.5,.5,.5,-.5,.5,.5,-.5, -.5,.5,-.5,-1,-.5,.5,-.5,-1,-.5,.5, -1,-.5,-1.5,-.5,-1],
[-.5,-1,.5,-1,-1.5,.5,1,-1,.5,-.5, 1,.5,-.5,.5,1,-.5,.5,1,.5,-.5, 1,.5,1,.5,-.5,.5,1,-.5,.5,-.5, .5,1,-.5,.5,-.5, .5,-.5,.5,1,-.5,.5,-.5,.5,-.5,-.5, -1,.5,-1.5,-.5,-1,-1,-.5,-1.5,-1,-.5, -1.5,-1,-1.5,-1,-1.5],
[-.5,.5,-1,.5,-.5,1,-.5,.5,-.5,.5, .5,-.5,1,.5,1,-.5,1,.5,-.5,1, .5,1,-.5,.5,1,-.5,.5,.5,-.5,.5, -.5,.5,-.5,.5,-.5, .5,-.5,.5,-.5,.5,-.5,.5,-.5,-1,-.5, -1,-1.5,-1,-.5,-1,-.5,-1.5,-1,-.5,-1, -1.5,-.5,-1,-.5,-1],
[.5,-.5,.5,.5,-.5,1,.5,-.5,.5,.5, .5,-.5,1,.5,1,.5,-.5,1,.5,-.5, 1,.5,-.5,.5,.5,-.5,1,.5,-.5,.5, .5,-.5,.5,.5,-.5, .5,-.5,.5,-.5,-1,.5,-.5,.5,-.5,-1, .5,-.5,-1,.5,-.5,-1,.5,-1,-.5,-1, -1.5,-1,-2,-1.5,-1],
[1,.5,1.5,.5,1,-.5,1.5,.5,1,.5, 1,-.5,.5,1,.5,1,-.5,.5,1,.5, -.5,.5,1,-.5,.5,1,.5,1.5,-.5,.5, 1,.5,-.5,.5,-.5, -1,-.5,.5,-.5,-1,-1.5,-1,-.5,-1,.5, -1,-.5,-1,-1.5,.5,-1,-.5,-1.5,-1,-.5, -1,-1.5,-.5,-1,-1],
[1,.5,1.5,1,.5,1,1.5,.5,1,.5, 1,.5,-.5,1,.5,1,.5,-.5,1,.5, .5,1,-.5,.5,.5,-.5,1,.5,.5,-.5, .5,-.5,.5,-.5,.5, -.5,.5,-1,-.5,.5,-.5,-1,-1.5,-1,-.5, -1.5,-1,-.5,-1.5,-1,-1.5,-.5,-1,-1.5,-1, -1.5,-1,-.5,-1,-1.5]
];
var gsvaColors = ['#27479c','#4c60ad','#7582c3','#a2a9da','#cfd3ec','#ffffff','#f8d4ce','#f2a9a0','#ec8379','#e8625b','#e6222a'];
var gsvaProjectColors = ['#b0a5d0','#ee9088','#c780b8','#78b83a','#4cc0e8'];
var gsvaPatternColors = ['#1f6fb8','#f59a1c','#d42a26'];

var fontName = 'Liberation Sans';
var chartDom = document.getElementById('chart');
var chart = echarts.init(chartDom, null, {renderer: 'canvas', width: 1200, height: 1312});

var grids = [], xAxes = [], yAxes = [], series = [], visualMaps = [], graphics = [];

function addGrid(left, top, width, height, xAxis, yAxis, extra) {
  var i = grids.length;
  var g = {left: left, top: top, width: width, height: height};
  if (extra) { for (var k in extra) g[k] = extra[k]; }
  grids.push(g);
  xAxis.gridIndex = i;
  yAxis.gridIndex = i;
  xAxes.push(xAxis);
  yAxes.push(yAxis);
  return i;
}

function hiddenValue(min, max, inverse) {
  return {type: 'value', min: min, max: max, show: false, inverse: !!inverse, splitLine: {show: false}};
}

function hiddenCategory(count) {
  var names = [];
  for (var i = 0; i < count; i++) names.push(i);
  return {type: 'category', data: names, show: false};
}

function text(str, x, y, size, opts) {
  opts = opts || {};
  graphics.push({type: 'text', x: x, y: y, silent: true, style: {
    text: str, fontSize: size, fontFamily: fontName, fontWeight: opts.weight || 'normal',
    fill: opts.color || '#111', verticalAlign: 'middle', align: opts.align || 'left'
  }});
}

function swatch(x, y, w, h, color, stroke) {
  graphics.push({type: 'rect', silent: true, shape: {x: x, y: y, width: w, height: h},
    style: {fill: color, stroke: stroke || null, lineWidth: stroke ? 1.5 : 0}});
}

// one block of a heatmap legend: title, then a stack of colour keys
function keyBlock(title, titleX, titleY, keyX, keyW, keyTop, keyH, textX, textYs, names, colors, size) {
  text(title, titleX, titleY, size);
  for (var i = 0; i < names.length; i++) {
    swatch(keyX, keyTop + i * keyH, keyW, keyH, colors[i]);
    text(names[i], textX, textYs[i], size);
  }
}

function blockRender(colorOf) {
  return function (params, api) {
    var a = api.coord([api.value(0), api.value(2)]);
    var b = api.coord([api.value(1), api.value(3)]);
    return {type: 'rect', shape: {x: a[0], y: a[1], width: b[0] - a[0], height: b[1] - a[1]},
      style: {fill: colorOf(api.value(4))}};
  };
}

function annotRender(palettes, frac) {
  return function (params, api) {
    var r = api.value(2);
    var a = api.coord([api.value(0), r]);
    var b = api.coord([api.value(1), r]);
    var h = api.size([0, 1])[1] * frac;
    return {type: 'rect', shape: {x: a[0], y: a[1] - h / 2, width: b[0] - a[0] + .4, height: h},
      style: {fill: palettes[r][api.value(3)]}};
  };
}

function runsToRects(row, edges, codes) {
  var out = [];
  for (var i = 0; i < codes.length; i++) out.push([edges[i], edges[i + 1], row, codes[i]]);
  return out;
}

function codesToRects(row, codes) {
  var out = [];
  for (var i = 0; i < codes.length; i++) out.push([i, i + 1, row, codes[i]]);
  return out;
}

// the row names hang on their own axis, labelShift px below the cells, as in the figure
function addHeat(left, top, width, height, rows, names, colors, vmin, vmax, fontSize, margin, labelShift) {
  addGrid(left, top + labelShift, width, height, hiddenCategory(rows[0].length), {
    type: 'category', data: names, inverse: true, position: 'right',
    axisLine: {show: false}, axisTick: {show: false},
    axisLabel: {fontSize: fontSize, color: '#111', fontFamily: fontName, margin: margin, interval: 0}
  });
  var idx = addGrid(left, top, width, height, hiddenCategory(rows[0].length), hiddenCategory(rows.length));
  yAxes[idx].inverse = true;
  var cells = [];
  rows.forEach(function (row, r) {
    row.forEach(function (v, c) { cells.push([c, r, v]); });
  });
  series.push({type: 'heatmap', xAxisIndex: idx, yAxisIndex: idx, data: cells, progressive: 0, silent: true});
  visualMaps.push({show: false, seriesIndex: series.length - 1, dimension: 2, min: vmin, max: vmax, inRange: {color: colors}});
}

function addAnnot(left, top, width, height, names, palettes, rects, maxX, frac, fontSize, margin) {
  var idx = addGrid(left, top, width, height, hiddenValue(0, maxX), {
    type: 'category', data: names, inverse: true, position: 'right',
    axisLine: {show: false}, axisTick: {show: false},
    axisLabel: {fontSize: fontSize, color: '#111', fontFamily: fontName, margin: margin, interval: 0}
  });
  series.push({type: 'custom', xAxisIndex: idx, yAxisIndex: idx, data: rects, silent: true,
    encode: {x: [0, 1], y: 2}, renderItem: annotRender(palettes, frac)});
}

function addColorbar(left, top, width, height, axisMin, axisMax, barMin, barMax, ticks, colors, fontSize, margin) {
  var stops = colors.map(function (c, i) { return {offset: i / (colors.length - 1), color: c}; });
  var minus = function (v) { return String(v).replace('-', '\u2212'); };
  var idx = addGrid(left, top, width, height, hiddenValue(0, 1), {
    type: 'value', min: axisMin, max: axisMax, position: 'right', splitLine: {show: false},
    axisLine: {show: false}, axisTick: {show: false},
    axisLabel: {customValues: ticks, formatter: minus, fontSize: fontSize, color: '#111', fontFamily: fontName, margin: margin}
  });
  series.push({type: 'custom', xAxisIndex: idx, yAxisIndex: idx, silent: true, data: [[0, 1, barMax, barMin, 0]],
    encode: {x: [0, 1], y: [2, 3]},
    renderItem: blockRender(function () { return new echarts.graphic.LinearGradient(0, 1, 0, 0, stops); })});
}

// ---------- panel A
var bluesOf = function (v) { return 'rgba(31,69,150,' + v + ')'; };
var matrixRects = consensusBlocks.slice();
partialBlocks.forEach(function (b) {
  streakCols.forEach(function (s) { if (s > b[0] && s < b[1]) matrixRects.push([s, s + 4, b[2], b[3], .13]); });
  streakRows.forEach(function (s) { if (s > b[2] && s < b[3]) matrixRects.push([b[0], b[1], s, s + 4, .13]); });
});
var barA = addGrid(47, 50, 338, 15, hiddenValue(0, consensusSamples), hiddenValue(0, 1));
series.push({type: 'custom', xAxisIndex: barA, yAxisIndex: barA, silent: true,
  data: clusterRuns.map(function (r) { return [r[0], r[1], 1, 0, r[2]]; }),
  encode: {x: [0, 1], y: [2, 3]}, renderItem: blockRender(function (c) { return clusterColors[c]; })});
var matA = addGrid(47, 70, 338, 351, hiddenValue(0, consensusSamples), hiddenValue(0, consensusSamples, true));
series.push({type: 'custom', xAxisIndex: matA, yAxisIndex: matA, silent: true, data: matrixRects,
  encode: {x: [0, 1], y: [2, 3]}, renderItem: blockRender(bluesOf)});
text('Consensus matrix k=3', 222, 33, 21.4, {align: 'center'});
[[53, 16, 60, '1', 0], [80, 14, 87, '2', 1], [105, 14, 112, '3', 2]].forEach(function (k) {
  swatch(404, k[0], 13, k[1], clusterColors[k[4]], '#222');
  text(k[3], 425, k[2], 14);
});

// ---------- panel B
var annotRects = runsToRects(0, projectEdges, projectCodes)
  .concat(codesToRects(1, chemoCodes), codesToRects(2, radioCodes), codesToRects(3, idhCodes), codesToRects(4, codelCodes),
    codesToRects(5, genderCodes), codesToRects(6, ageCodes), codesToRects(7, gradeCodes), codesToRects(8, fustatCodes),
    runsToRects(9, patternEdges, [0, 1, 2]));
addAnnot(499, 27.5, 449, 116, annotNames,
  [projectColors, chemoColors, radioColors, idhColors, codelColors, genderColors, ageColors, gradeColors, fustatColors, patternColors],
  annotRects, 80, .78, 12, 3);
addHeat(499, 146, 449, 317, exprRows, geneNames, exprColors, -10, 10, 14, 3, 0);
addColorbar(1054.6, 23.9, 9.4, 143.9, -10.4, 10.3, -10.4, 9.7, [-10, -5, 0, 5, 10], exprColors, 16, 4);

keyBlock('Project', 1106, 26, 1108.6, 8.4, 32.3, 9.5, 1117, [37, 47, 56, 66, 76], ['CGGA1','CGGA2','GSE108474','GSE16011','TCGA'], projectColors, 12.3);
keyBlock('Chemo status', 1105, 87, 1108.6, 8.4, 93.3, 9.5, 1117, [99, 108, 117], ['B','NO','YES'], chemoColors, 12.3);
keyBlock('Radio status', 1106, 130, 1108.6, 8.4, 136, 9.5, 1117, [142, 151, 161], ['NA','NO','YES'], radioColors, 12.3);
keyBlock('IDH', 1106, 172, 1108.6, 8.4, 177.7, 9.7, 1117, [184, 193, 202], ['Mutant','NA','Wildtype'], idhColors, 12.3);
keyBlock('1p19q', 1106, 214, 1108.6, 8.4, 220, 9.5, 1117, [223, 233, 242], ['Codel','NA','Non\u2212codel'], codelColors, 12.3);
keyBlock('Gender', 1106, 256, 1108.6, 8.4, 262.7, 9.3, 1117, [268, 277], ['Female','Male'], genderColors, 12.3);
keyBlock('Age', 1106, 289, 1108.6, 8.4, 295, 9.4, 1117, [298, 307, 319], ['<50','>=50','NA'], ageColors, 12.3);
keyBlock('Grade', 1105, 331, 1108.6, 8.4, 337, 9.4, 1117, [343, 352, 362, 371, 380], ['NA','WHO I','WHO II','WHO III','WHO IV'], gradeColors, 12.3);
keyBlock('Fustat', 1106, 392, 1108.6, 8.4, 398.7, 9.2, 1117, [404, 413], ['Alive','Dead'], fustatColors, 12.3);
keyBlock('Pattern', 1106, 428, 1108.6, 8.4, 434, 11, 1117, [439, 451, 463], patternNames, ['#1f6fb8','#f59a1c','#ee2418'], 12.3);

// ---------- panel C
var pcaMinus = function (v) { return String(v).replace('-', '\u2212'); };
var pcaGrid = addGrid(55.7, 533, 299.3, 317.7, {
  type: 'value', min: -9.82, max: 10.13, splitLine: {show: false},
  axisLine: {onZero: false, lineStyle: {color: '#444', width: 1.5}},
  axisTick: {customValues: [-5, 0, 5, 10], lineStyle: {color: '#444'}, length: 3},
  axisLabel: {customValues: [-5, 0, 5, 10], formatter: pcaMinus, color: '#4d4d4d', fontSize: 14, fontFamily: fontName, margin: 5},
  name: 'PC1', nameLocation: 'middle', nameGap: 22, nameTextStyle: {fontSize: 21, color: '#111', fontFamily: fontName}
}, {
  type: 'value', min: -5.38, max: 6, splitLine: {show: false},
  axisLine: {onZero: false, lineStyle: {color: '#444', width: 1.5}},
  axisTick: {customValues: [-3, 0, 3, 6], lineStyle: {color: '#444'}, length: 3},
  axisLabel: {customValues: [-3, 0, 3, 6], formatter: pcaMinus, color: '#4d4d4d', fontSize: 14, fontFamily: fontName, margin: 5},
  name: 'PC2', nameLocation: 'middle', nameGap: 17, nameTextStyle: {fontSize: 21, color: '#111', fontFamily: fontName}
}, {show: true, borderColor: '#444', borderWidth: 1.5, backgroundColor: 'transparent'});
[pcaA, pcaB, pcaC].forEach(function (pts, i) {
  series.push({type: 'scatter', name: patternNames[i], xAxisIndex: pcaGrid, yAxisIndex: pcaGrid, data: pts,
    symbolSize: 7.2, itemStyle: {color: patternColors[i], opacity: 1}, silent: true});
});
text('Pattern', 379, 660, 14);
patternNames.forEach(function (n, i) {
  graphics.push({type: 'circle', silent: true, shape: {cx: 381, cy: 681 + i * 19, r: 3.2}, style: {fill: patternColors[i]}});
  text(n, 394, 681 + i * 19, 14);
});

// ---------- panel D
var survGrid = addGrid(70, 920, 376.7, 258.7, {
  type: 'value', min: -1.01, max: 20.93, splitLine: {show: false},
  axisLine: {onZero: false, lineStyle: {color: '#333', width: 1.5}},
  axisTick: {customValues: yearTicks, lineStyle: {color: '#333', width: 1.2}, length: 3},
  axisLabel: {customValues: yearTicks, color: '#111', fontSize: 14, fontFamily: fontName, margin: 5},
  name: 'Time(years)', nameLocation: 'middle', nameGap: 18,
  nameTextStyle: {fontSize: 21.2, color: '#111', fontFamily: fontName, padding: [0, 0, 0, 18]}
}, {
  type: 'value', min: -.05, max: 1.047, splitLine: {show: false},
  axisLine: {show: true, onZero: false, lineStyle: {color: '#333', width: 1.5}},
  axisTick: {show: true, customValues: [0, .25, .5, .75, 1], lineStyle: {color: '#333', width: 1.2}, length: 3},
  axisLabel: {customValues: [0, .25, .5, .75, 1], formatter: function (v) { return v.toFixed(2); }, color: '#111', fontSize: 14, fontFamily: fontName, margin: 5},
  name: 'Survival probability', nameLocation: 'middle', nameGap: 32,
  nameTextStyle: {fontSize: 21.2, color: '#111', fontFamily: fontName, padding: [0, 12, 0, 0]}
});
var plusMark = 'path://M4 0H6V4H10V6H6V10H4V6H0V4H4Z';
[survivalA, survivalB, survivalC].forEach(function (pts, i) {
  series.push({type: 'line', name: patternNames[i], xAxisIndex: survGrid, yAxisIndex: survGrid, data: pts, step: 'end',
    symbol: 'none', lineStyle: {color: patternColors[i], width: 2.4}, itemStyle: {color: patternColors[i]}, silent: true});
});
[censorA, censorB, censorC].forEach(function (pts, i) {
  series.push({type: 'scatter', xAxisIndex: survGrid, yAxisIndex: survGrid, data: pts, symbol: plusMark, symbolSize: 7,
    itemStyle: {color: patternColors[i], opacity: 1}, silent: true});
});
series.push({type: 'line', xAxisIndex: survGrid, yAxisIndex: survGrid, data: medianLine, symbol: 'none', silent: true, lineStyle: {color: '#000', width: 2.2, type: [9, 7]}});
series.push({type: 'line', xAxisIndex: survGrid, yAxisIndex: survGrid, data: medianB, symbol: 'none', silent: true, lineStyle: {color: '#000', width: 2.2, type: [9, 7]}});
series.push({type: 'line', xAxisIndex: survGrid, yAxisIndex: survGrid, data: medianAC, symbol: 'none', silent: true, lineStyle: {color: '#666', width: 3.6, type: [9, 7]}});
text('p<0.001', 147, 1155, 14);
text('Pattern', 345, 941, 14);
patternNames.forEach(function (n, i) {
  swatch(346.5, 958.5 + i * 18, 12, 4, patternColors[i]);
  swatch(351.7, 956.5 + i * 18, 1.6, 8, patternColors[i]);
  text(n, 365, 960 + i * 18, 14.4);
});

// number at risk table; the wide early counts sit left of their ticks, as in the figure
var riskNudge = [[-6, -6, -5.5, -5, -5, -5, -4, -3], [-6, 0, -3], [-6]];
var riskPoints = [];
[riskA, riskB, riskC].forEach(function (row, r) {
  row.forEach(function (n, c) {
    riskPoints.push({value: [yearTicks[c], r, n], label: {offset: [riskNudge[r][c] || 0, 0]}});
  });
});
var riskGrid = addGrid(70, 1240, 376.7, 33.3, {
  type: 'value', min: -1.01, max: 20.93, splitLine: {show: false},
  axisLine: {onZero: false, lineStyle: {color: '#333', width: 1.5}},
  axisTick: {customValues: yearTicks, lineStyle: {color: '#333', width: 1.2}, length: 3},
  axisLabel: {customValues: yearTicks, color: '#111', fontSize: 12, fontFamily: fontName, margin: 5},
  name: 'Time(years)', nameLocation: 'middle', nameGap: 17,
  nameTextStyle: {fontSize: 14, color: '#111', fontFamily: fontName, padding: [0, 0, 0, 18]}
}, {
  type: 'category', data: patternNames, inverse: true,
  axisLine: {show: true, onZero: false, lineStyle: {color: '#333', width: 1.5}},
  axisTick: {show: false},
  axisLabel: {fontSize: 14, fontFamily: fontName, margin: 3, interval: 0,
    color: function (v) { return patternColors[patternNames.indexOf(v)]; }}
});
series.push({type: 'scatter', xAxisIndex: riskGrid, yAxisIndex: riskGrid, data: riskPoints, symbolSize: 0, silent: true,
  label: {show: true, position: 'inside', color: '#000', fontSize: 12, fontFamily: fontName,
    formatter: function (p) { return p.value[2]; }}});
text('Number at risk', 70, 1230, 14.2);

// ---------- panel E
addAnnot(497, 497, 185, 28.5, ['Pattern', 'Project'], [gsvaPatternColors, gsvaProjectColors],
  runsToRects(0, patternEdgesE, patternCodesE).concat(runsToRects(1, projectEdgesE, projectCodesE)), 60, .8, 13.6, 1);
addHeat(497, 527.3, 185, 347, gsvaE, pathwaysE, gsvaColors, -2.5, 2.5, 14.3, 1, 1);
addColorbar(1071, 509, 6, 120, -2.55, 2.37, -2.55, 2.37, [-2, -1, 0, 1, 2], gsvaColors, 14, 2);
keyBlock('Pattern', 1108, 511, 1110, 7, 520, 13, 1118, [526, 541], ['Pattern B','Pattern C'], ['#f59a1c','#ee2418'], 14);
keyBlock('Project', 1111, 559, 1110, 7, 567.7, 14.8, 1118, [574, 589, 604, 618, 633], ['CGGA1','CGGA2','GSE108474','GSE16011','TCGA'], gsvaProjectColors, 14);

// ---------- panel F
addAnnot(493, 931, 187.5, 28, ['Pattern', 'Project'], [gsvaPatternColors, gsvaProjectColors],
  runsToRects(0, patternEdgesF, patternCodesF).concat(runsToRects(1, projectEdgesF, projectCodesF)), 60, .8, 13.6, 1);
addHeat(493, 960, 187.5, 347.3, gsvaF, pathwaysF, gsvaColors, -2.5, 2.5, 14.3, 1, 3);
addColorbar(1073, 942, 5.6, 120, -2.83, 2.65, -2.83, 2.65, [-2, -1, 0, 1, 2], gsvaColors, 14, 2.5);
keyBlock('Pattern', 1107, 945, 1108.5, 7.5, 952.7, 12.6, 1117, [958, 970], ['Pattern A','Pattern B'], ['#1f6fb8','#f59a1c'], 14);
keyBlock('Project', 1107, 990, 1108.5, 7.5, 997.7, 13.5, 1117, [1003, 1016, 1030, 1044, 1058], ['CGGA1','CGGA2','GSE108474','GSE16011','TCGA'], gsvaProjectColors, 14);

// ---------- panel letters
[['A', 4, 15], ['B', 466, 14], ['C', 4, 495], ['D', 4, 912], ['E', 466, 494], ['F', 466, 908]].forEach(function (l) {
  text(l[0], l[1], l[2], 27, {weight: 'bold', color: '#000'});
});

var option = {
  animation: false,
  backgroundColor: '#fff',
  textStyle: {fontFamily: fontName},
  grid: grids,
  xAxis: xAxes,
  yAxis: yAxes,
  visualMap: visualMaps,
  series: series,
  graphic: {elements: graphics}
};
chart.setOption(option);
</script>
</body>
</html>
